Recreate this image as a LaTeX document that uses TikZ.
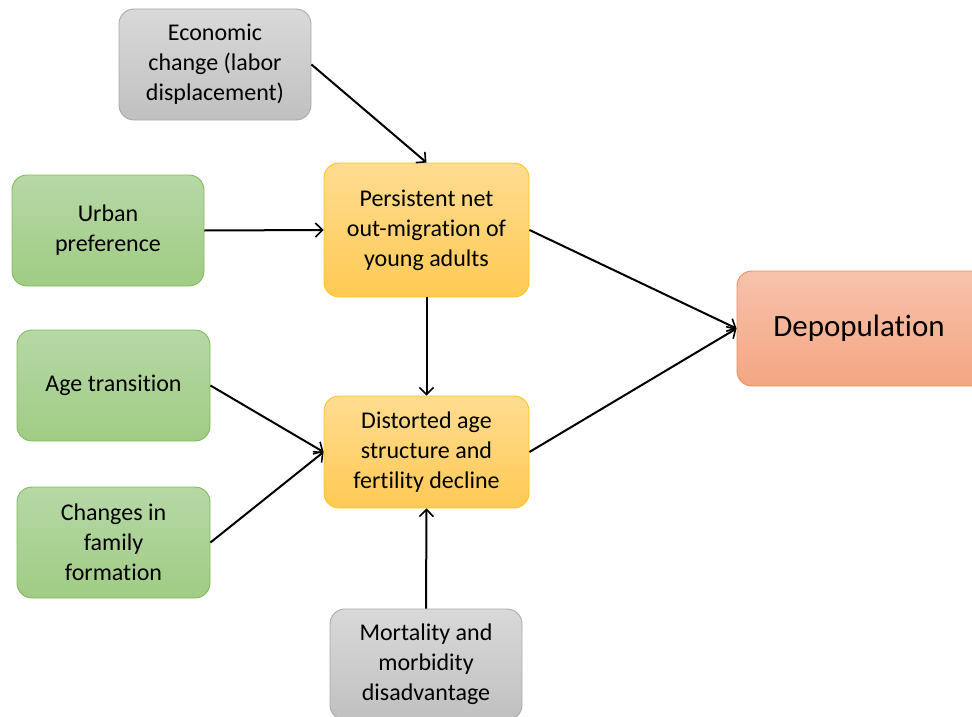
\documentclass[tikz,border=0pt]{standalone}
\usepackage{fontspec}
\setmainfont{Carlito}[Ligatures={NoCommon}]
\usetikzlibrary{arrows.meta}
\definecolor{grT}{RGB}{217,217,217}
\definecolor{grB}{RGB}{192,192,192}
\definecolor{grD}{RGB}{170,170,170}
\definecolor{gnT}{RGB}{182,216,166}
\definecolor{gnB}{RGB}{160,204,132}
\definecolor{gnD}{RGB}{130,186,90}
\definecolor{orT}{RGB}{255,220,145}
\definecolor{orB}{RGB}{255,202,84}
\definecolor{orD}{RGB}{255,196,30}
\definecolor{saT}{RGB}{247,194,172}
\definecolor{saB}{RGB}{244,166,130}
\definecolor{saD}{RGB}{238,140,100}
\tikzset{
  box/.style={rounded corners=15pt, align=center, inner sep=2pt, line width=0.9pt,
    font=\fontsize{24}{30}\selectfont, text=black},
  graybox/.style={box, draw=grD, top color=grT, bottom color=grB},
  greenbox/.style={box, draw=gnD, top color=gnT, bottom color=gnB},
  orbox/.style={box, draw=orD, top color=orT, bottom color=orB},
  sabox/.style={box, draw=saD, top color=saT, bottom color=saB},
  conn/.style={line width=2pt, -{Straight Barb[length=7pt,width=14pt,line width=1.6pt]}}
}
\begin{document}
\begin{tikzpicture}[x=1pt,y=-1pt]
\useasboundingbox (0,0) rectangle (972,717);
\node[graybox, minimum width=192pt, minimum height=111pt] (econ) at (215,64.5) {Economic\\change (labor\\displacement)};
\node[greenbox, minimum width=192pt, minimum height=111pt] (urban) at (108,230.5) {Urban\\preference};
\node[orbox, minimum width=205pt, minimum height=134pt] (persist) at (426.5,230) {Persistent net\\out-migration of\\young adults};
\node[sabox, minimum width=250pt, minimum height=115pt, font=\fontsize{31}{36}\selectfont] (depop) at (862,328.5) {\hspace*{-6pt}Depopulation};
\node[greenbox, minimum width=193pt, minimum height=111pt] (age) at (113.5,385.5) {Age transition};
\node[orbox, minimum width=205pt, minimum height=112pt] (dist) at (426.5,452) {Distorted age\\structure and\\fertility decline};
\node[greenbox, minimum width=193pt, minimum height=111pt] (chg) at (113.5,542.5) {Changes in\\family\\formation};
\node[graybox, minimum width=192pt, minimum height=111pt] (mort) at (426,664.5) {Mortality and\\morbidity\\disadvantage};
\draw[conn] (econ.east) -- (persist.north);
\draw[conn] (urban.east) -- (persist.west);
\draw[conn] (persist.south) -- (dist.north);
\draw[conn] (persist.east) -- (depop.west);
\draw[conn] (dist.east) -- (depop.west);
\draw[conn] (age.east) -- (dist.west);
\draw[conn] (chg.east) -- (dist.west);
\draw[conn] (mort.north) -- (dist.south);
\end{tikzpicture}
\end{document}
